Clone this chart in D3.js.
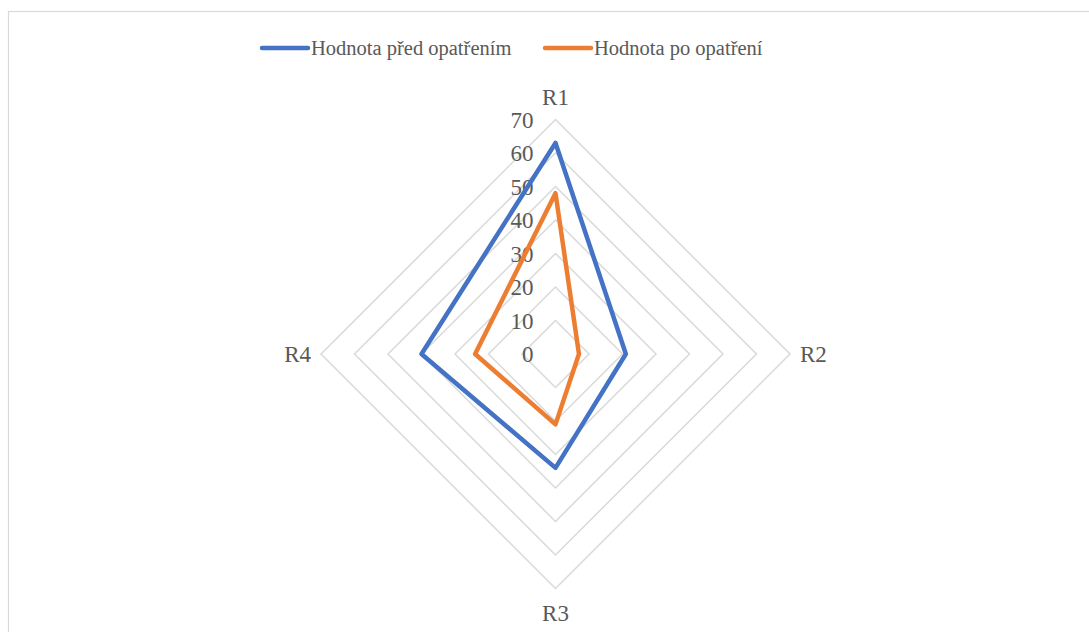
<!DOCTYPE html>
<html>
<head>
<meta charset="utf-8">
<script src="https://cdn.jsdelivr.net/npm/d3@7"></script>
<style>
  html, body { margin: 0; padding: 0; background: #fff; }
  svg { display: block; }
</style>
</head>
<body>
<svg id="chart" width="1089" height="632"></svg>
<script>
// Radar chart data
const categories = ["R1", "R2", "R3", "R4"];
const seriesNames = ["Hodnota před opatřením", "Hodnota po opatření"];
const valuesBefore = [63, 21, 34, 40];
const valuesAfter = [48, 7, 21, 24];
const tickValues = [0, 10, 20, 30, 40, 50, 60, 70];
const seriesColors = ["#4472C4", "#ED7D31"];

const FONT = "'Liberation Serif', 'Times New Roman', Times, serif";
const TEXT = "#595959";

const svg = d3.select("#chart");
const W = 1089, H = 632;

// chart area frame
svg.append("rect")
  .attr("x", 8.5).attr("y", 11.5)
  .attr("width", W + 10).attr("height", H + 10)
  .attr("fill", "#fff").attr("stroke", "#d9d9d9").attr("stroke-width", 1.2);

const cx = 555.5, cy = 354, R = 234.5;
const r = d3.scaleLinear().domain([0, 70]).range([0, R]);
const angle = d3.scalePoint().domain(categories).range([0, 2 * Math.PI * (categories.length - 1) / categories.length]);

const g = svg.append("g").attr("transform", `translate(${cx},${cy})`);

const pt = (cat, v) => {
  const a = angle(cat);
  return [r(v) * Math.sin(a), -r(v) * Math.cos(a)];
};

// grid rings
tickValues.filter(t => t > 0).forEach(t => {
  g.append("path")
    .attr("d", d3.line().curve(d3.curveLinearClosed)(categories.map(c => pt(c, t))))
    .attr("fill", "none").attr("stroke", "#d9d9d9").attr("stroke-width", 1.5);
});

// tick labels on the R1 axis
g.selectAll(".tick").data(tickValues).join("text")
  .attr("class", "tick")
  .attr("x", -22).attr("y", d => -r(d))
  .attr("dy", "0.35em")
  .attr("text-anchor", "end")
  .attr("font-family", FONT).attr("fill", TEXT)
  .attr("font-size", 23)
  .text(d => d);

// category labels
g.selectAll(".cat").data(categories).join("text")
  .attr("class", "cat")
  .attr("x", d => pt(d, 70)[0] + (d === "R2" ? 10 : d === "R4" ? -10 : 0))
  .attr("y", d => pt(d, 70)[1] + (d === "R1" ? -23 : d === "R3" ? 24 : 0))
  .attr("dy", "0.35em")
  .attr("text-anchor", d => d === "R2" ? "start" : d === "R4" ? "end" : "middle")
  .attr("font-family", FONT).attr("fill", TEXT)
  .attr("font-size", 23)
  .text(d => d);

// series polygons
[valuesBefore, valuesAfter].forEach((vals, i) => {
  g.append("path")
    .attr("d", d3.line().curve(d3.curveLinearClosed)(categories.map((c, k) => pt(c, vals[k]))))
    .attr("fill", "none")
    .attr("stroke", seriesColors[i])
    .attr("stroke-width", 4.5)
    .attr("stroke-linejoin", "round");
});

// legend
const legendX = [262, 545];
const legend = svg.append("g");
seriesNames.forEach((name, i) => {
  legend.append("line")
    .attr("x1", legendX[i]).attr("x2", legendX[i] + 46)
    .attr("y1", 48).attr("y2", 48)
    .attr("stroke", seriesColors[i]).attr("stroke-width", 4.5)
    .attr("stroke-linecap", "round");
  legend.append("text")
    .attr("x", legendX[i] + 49).attr("y", 48)
    .attr("dy", "0.35em")
    .attr("font-family", FONT).attr("fill", TEXT)
    .attr("font-size", 20.5)
    .text(name);
});
</script>
</body>
</html>
